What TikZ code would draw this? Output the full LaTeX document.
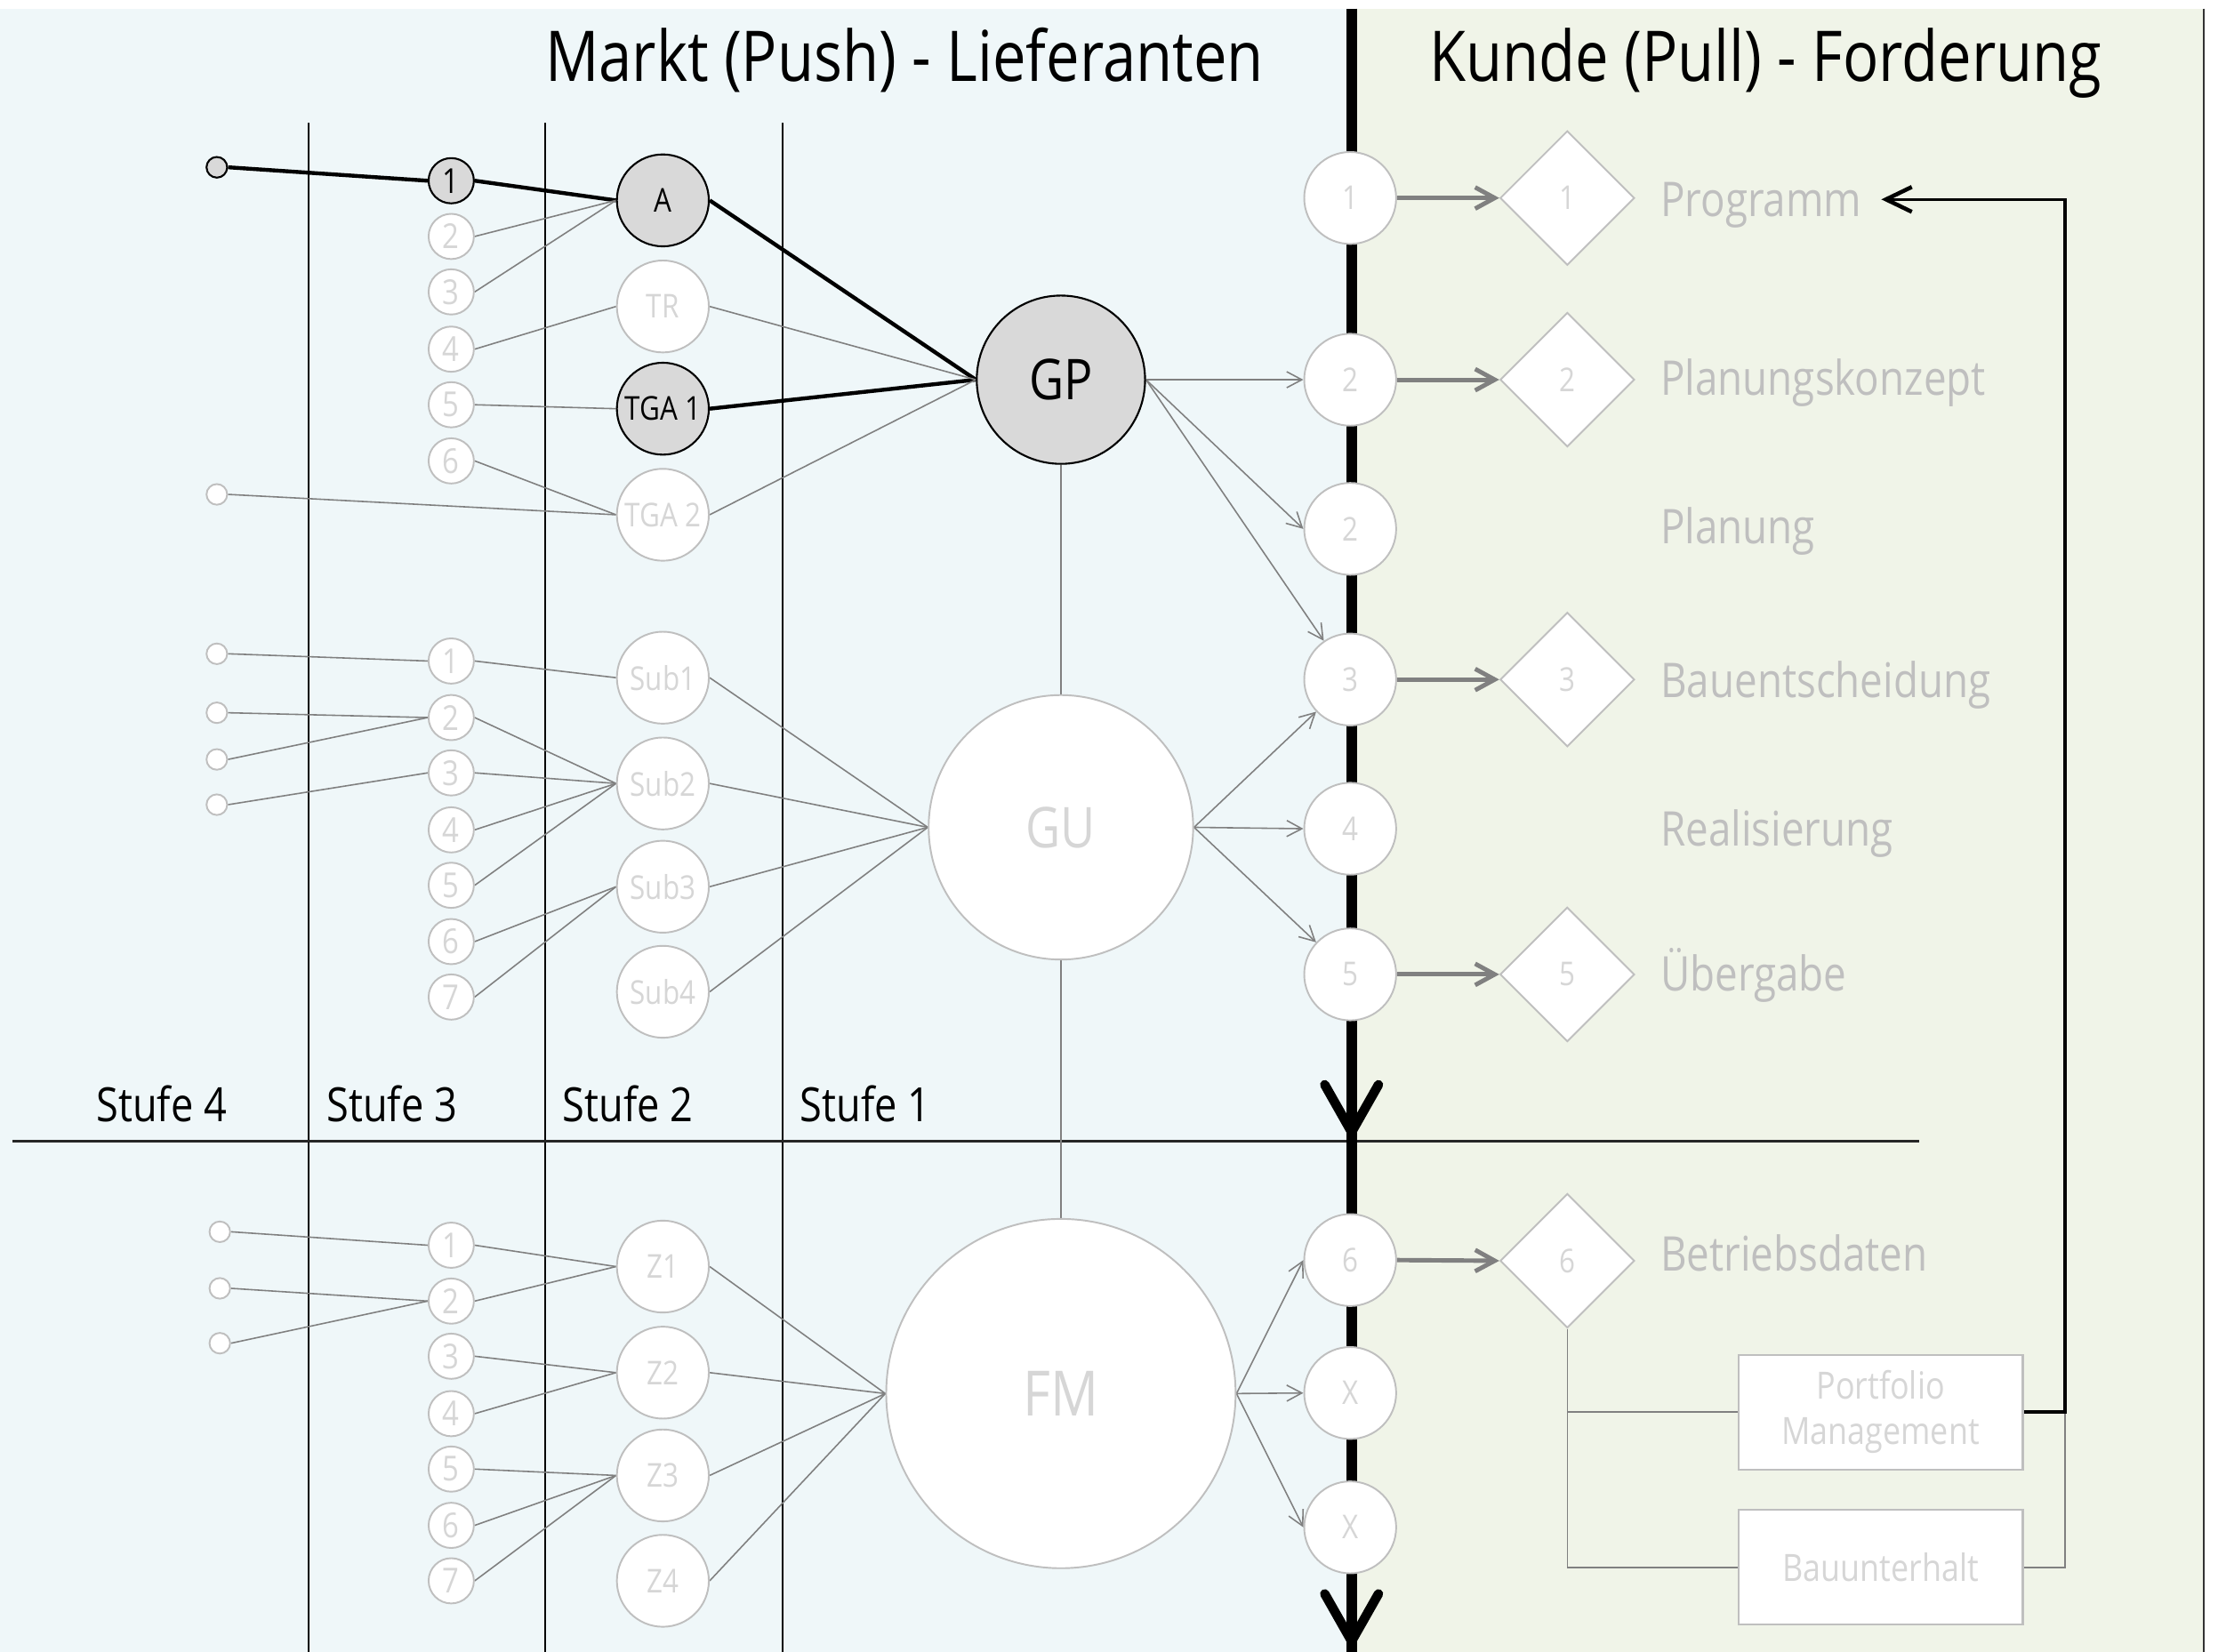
\documentclass[tikz,border=0pt]{standalone}
\usepackage{fontspec}
\setmainfont{Open Sans}[FakeStretch=0.85]
\usetikzlibrary{shapes.geometric,arrows.meta}
\pgfdeclarelayer{bg}
\pgfdeclarelayer{edges}
\pgfsetlayers{bg,edges,main}
\definecolor{bgblue}{HTML}{EFF7F9}
\definecolor{bggreen}{HTML}{F0F4E8}
\definecolor{gfill}{HTML}{D9D9D9}
\definecolor{lstroke}{HTML}{BFBFBF}
\definecolor{ltext}{HTML}{D6D6D6}
\definecolor{lbl}{HTML}{BFBFBF}
\definecolor{conncol}{HTML}{808080}
\newcommand{\fsz}[1]{\fontsize{#1}{#1}\selectfont}
\newcommand{\uu}[1]{#1*0.0159056cm}
\begin{document}
\begin{tikzpicture}[x=0.0159056cm,y=-0.0159056cm,
  conn/.style={draw=conncol,line width=0.45pt},
  hl/.style={draw=black,line width=1.25pt},
  cnode/.style={circle,inner sep=0pt,draw=lstroke,line width=0.55pt,fill=white,text=ltext},
  sthree/.style={cnode,minimum size=\uu{32},font=\fsz{11}},
  stwo/.style={cnode,minimum size=\uu{65},font=\fsz{10.5}},
  termnode/.style={cnode,minimum size=\uu{14.6}},
  darknode/.style={fill=gfill,draw=black,text=black,line width=0.6pt},
  rc/.style={cnode,minimum size=\uu{65},font=\fsz{10.5}},
  dia/.style={diamond,draw=lstroke,line width=0.55pt,fill=white,text=ltext,inner sep=0pt,minimum width=\uu{95},minimum height=\uu{95},font=\fsz{10.5}},
  lab/.style={anchor=base west,inner sep=0pt,text=lbl,font=\fsz{15.3}},
  stufe/.style={anchor=base west,inner sep=0pt,text=black,font=\fsz{15.1}},
  titl/.style={anchor=base west,inner sep=0pt,text=black,font=\fsz{22.4}},
  thinarr/.style={conn,-{Straight Barb[length=1.7mm,width=1.8mm]}},
  heavyarr/.style={draw=conncol,line width=1.4pt,-{Straight Barb[length=2.2mm,width=2.4mm]}},
  infobox/.style={draw=lstroke,line width=0.6pt,fill=white,text=ltext,minimum width=\uu{201},minimum height=\uu{81},inner sep=0pt,align=center,font=\fontsize{12}{14.5}\selectfont}
]
\useasboundingbox (0,0) rectangle (1568,1168);
% ---------- titles
\node[titl] (tl) at (385,57.5) {Markt (Push) - Lieferanten};
\node[titl] (tr) at (1010,57.5) {Kunde (Pull) - Forderung};
% ---------- stage labels
\node[stufe] (s4) at (67.7,793) {Stufe 4};
\node[stufe] (s3) at (230.5,793) {Stufe 3};
\node[stufe] (s2) at (397.5,793) {Stufe 2};
\node[stufe] (s1) at (565.3,793) {Stufe 1};
% ---------- top group (GP)
\node[termnode,darknode] (t1) at (153.3,118.3) {};
\node[termnode] (t2) at (153.3,349.6) {};
\node[sthree,darknode] (a1) at (319,127.8) {1};
\node[sthree] (a2) at (319,167.2) {2};
\node[sthree] (a3) at (319,206.4) {3};
\node[sthree] (a4) at (319,246.9) {4};
\node[sthree] (a5) at (319,286.2) {5};
\node[sthree] (a6) at (319,325.9) {6};
\node[stwo,darknode] (A) at (468.6,141.7) {A};
\node[stwo] (TR) at (468.6,216.7) {TR};
\node[stwo,darknode] (TGA1) at (468.6,289) {TGA 1};
\node[stwo] (TGA2) at (468.6,364) {TGA 2};
\node[cnode,darknode,minimum size=\uu{119},font=\fsz{18}] (GP) at (750,268.5) {GP};
% ---------- middle group (GU)
\node[termnode] (m1) at (153.3,462.3) {};
\node[termnode] (m2) at (153.3,504) {};
\node[termnode] (m3) at (153.3,537) {};
\node[termnode] (m4) at (153.3,569) {};
\node[sthree] (b1) at (319,467.4) {1};
\node[sthree] (b2) at (319,507.4) {2};
\node[sthree] (b3) at (319,546.5) {3};
\node[sthree] (b4) at (319,586.8) {4};
\node[sthree] (b5) at (319,626) {5};
\node[sthree] (b6) at (319,665.8) {6};
\node[sthree] (b7) at (319,705) {7};
\node[stwo] (Sub1) at (468.6,479.2) {Sub1};
\node[stwo] (Sub2) at (468.6,554) {Sub2};
\node[stwo] (Sub3) at (468.6,627) {Sub3};
\node[stwo] (Sub4) at (468.6,701.3) {Sub4};
\node[cnode,minimum size=\uu{187},font=\fsz{18}] (GU) at (750,585) {GU};
% ---------- bottom group (FM)
\node[termnode] (f1) at (155.4,871) {};
\node[termnode] (f2) at (155.4,911) {};
\node[termnode] (f3) at (155.4,949.8) {};
\node[sthree] (c1) at (319,880.5) {1};
\node[sthree] (c2) at (319,920) {2};
\node[sthree] (c3) at (319,959) {3};
\node[sthree] (c4) at (319,999.6) {4};
\node[sthree] (c5) at (319,1038.8) {5};
\node[sthree] (c6) at (319,1078.6) {6};
\node[sthree] (c7) at (319,1117.8) {7};
\node[stwo] (Z1) at (468.6,895.6) {Z1};
\node[stwo] (Z2) at (468.6,970.6) {Z2};
\node[stwo] (Z3) at (468.6,1043.3) {Z3};
\node[stwo] (Z4) at (468.6,1117.8) {Z4};
\node[cnode,minimum size=\uu{247},font=\fsz{20}] (FM) at (750,985.4) {FM};
% ---------- right column circles
\node[rc] (r1) at (954.5,140) {1};
\node[rc] (r2a) at (954.5,268.5) {2};
\node[rc] (r2b) at (954.5,374) {2};
\node[rc] (r3) at (954.5,480.5) {3};
\node[rc] (r4) at (954.5,586) {4};
\node[rc] (r5) at (954.5,689) {5};
\node[rc] (r6) at (954.5,891) {6};
\node[rc] (rx1) at (954.5,985) {X};
\node[rc] (rx2) at (954.5,1080) {X};
% ---------- diamonds
\node[dia] (d1) at (1108,140) {1};
\node[dia] (d2) at (1108,268.5) {2};
\node[dia] (d3) at (1108,480.5) {3};
\node[dia] (d5) at (1108,689) {5};
\node[dia] (d6) at (1108,891.5) {6};
% ---------- labels
\node[lab] (lprog) at (1173.5,153) {Programm};
\node[lab] (lpk) at (1173.5,279.3) {Planungskonzept};
\node[lab] (lpl) at (1173.5,384.5) {Planung};
\node[lab] (lbe) at (1173.5,493.5) {Bauentscheidung};
\node[lab] (lre) at (1173.5,598.5) {Realisierung};
\node[lab] (lue) at (1173.5,700.7) {Übergabe};
\node[lab] (lbd) at (1173.5,899) {Betriebsdaten};
% ---------- boxes
\node[infobox] (PM) at (1329.5,998.5) {Portfolio\\Management};
\node[infobox] (BU) at (1329.5,1108.3) {Bauunterhalt};
\coordinate (ltop) at (955.5,6);
\coordinate (lbot) at (955.5,1168);
\coordinate (cr) at (1460,998.5);
\coordinate (ctop) at (1460,141);
\coordinate (ptip) at (1330,141);
% ---------- background
\begin{pgfonlayer}{bg}
\fill[bgblue] (0,6) rectangle (955.5,1168);
\fill[bggreen] (955.5,6) rectangle (1558,1168);
\draw[line width=0.6pt,black!80] (1558,6) -- (1558,1168);
\foreach \xx in {218,385.4,553.3} \draw[line width=0.5pt] (\xx,87) -- (\xx,1168);
\draw[line width=0.7pt,black!85] (9,807) -- (1357,807);
\end{pgfonlayer}
% ---------- edges
\begin{pgfonlayer}{edges}
\draw[line width=3.5pt] (ltop) -- (lbot);
\draw[line width=3pt,line cap=round,line join=miter] (936.5,767) -- (955.5,800.5) -- (974.5,767);
\draw[line width=3pt,line cap=round,line join=miter] (936.5,1127) -- (955.5,1160.5) -- (974.5,1127);
% top group
\draw[hl] (t1.east) -- (a1.west);
\draw[hl] (a1.east) -- (A.west);
\draw[conn] (a2.east) -- (A.west);
\draw[conn] (a3.east) -- (A.west);
\draw[conn] (a4.east) -- (TR.west);
\draw[conn] (a5.east) -- (TGA1.west);
\draw[conn] (a6.east) -- (TGA2.west);
\draw[conn] (t2.east) -- (TGA2.west);
\draw[hl] (A.east) -- (GP.west);
\draw[hl] (TGA1.east) -- (GP.west);
\draw[conn] (TR.east) -- (GP.west);
\draw[conn] (TGA2.east) -- (GP.west);
\draw[conn] (GP.south) -- (GU.north);
\draw[conn] (GU.south) -- (FM.north);
% middle group
\draw[conn] (m1.east) -- (b1.west);
\draw[conn] (m2.east) -- (b2.west);
\draw[conn] (m3.east) -- (b2.west);
\draw[conn] (m4.east) -- (b3.west);
\draw[conn] (b1.east) -- (Sub1.west);
\draw[conn] (b2.east) -- (Sub2.west);
\draw[conn] (b3.east) -- (Sub2.west);
\draw[conn] (b4.east) -- (Sub2.west);
\draw[conn] (b5.east) -- (Sub2.west);
\draw[conn] (b6.east) -- (Sub3.west);
\draw[conn] (b7.east) -- (Sub3.west);
\foreach \s in {Sub1,Sub2,Sub3,Sub4} \draw[conn] (\s.east) -- (GU.west);
% bottom group
\draw[conn] (f1.east) -- (c1.west);
\draw[conn] (f2.east) -- (c2.west);
\draw[conn] (f3.east) -- (c2.west);
\draw[conn] (c1.east) -- (Z1.west);
\draw[conn] (c2.east) -- (Z1.west);
\draw[conn] (c3.east) -- (Z2.west);
\draw[conn] (c4.east) -- (Z2.west);
\draw[conn] (c5.east) -- (Z3.west);
\draw[conn] (c6.east) -- (Z3.west);
\draw[conn] (c7.east) -- (Z3.west);
\foreach \s in {Z1,Z2,Z3,Z4} \draw[conn] (\s.east) -- (FM.west);
% arrows to the right column
\draw[thinarr] (GP.east) -- (r2a.west);
\draw[thinarr] (GP.east) -- (r2b.west);
\draw[thinarr] (GP.east) -- (r3);
\draw[thinarr] (GU.east) -- (r3);
\draw[thinarr] (GU.east) -- (r4.west);
\draw[thinarr] (GU.east) -- (r5);
\draw[thinarr] (FM.east) -- (r6.west);
\draw[thinarr] (FM.east) -- (rx1.west);
\draw[thinarr] (FM.east) -- (rx2.west);
% heavy arrows circle -> diamond
\draw[heavyarr] (r1.east) -- (d1.west);
\draw[heavyarr] (r2a.east) -- (d2.west);
\draw[heavyarr] (r3.east) -- (d3.west);
\draw[heavyarr] (r5.east) -- (d5.west);
\draw[heavyarr] (r6.east) -- (d6.west);
% tree below diamond 6
\draw[conn] (d6.south) |- (BU.west);
\draw[conn] (d6.south |- PM.west) -- (PM.west);
\draw[conn] (BU.east) -| (cr);
\draw[black,line width=1pt,-{Straight Barb[length=2.9mm,width=2.8mm,line width=1.3pt]}] (PM.east) -- (cr) -- (ctop) -- (ptip);
\end{pgfonlayer}
\end{tikzpicture}
\end{document}
